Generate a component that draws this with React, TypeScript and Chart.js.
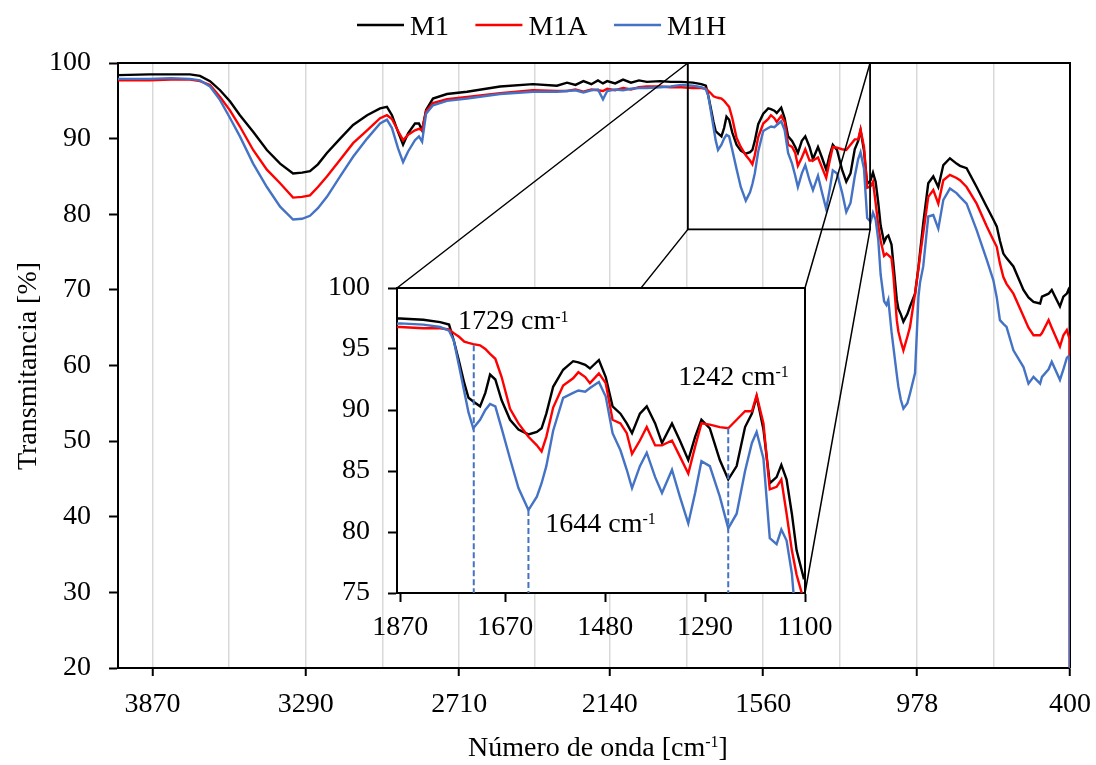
import React, { useEffect, useRef } from "react";
import { Chart, registerables } from "chart.js";
Chart.register(...registerables);

const FONT = '"Liberation Serif", "Times New Roman", Times, serif';
const FS = 28;

// ---- data (wavenumber in cm-1, transmittance in %) ----
const wavenumbers = [
  4000, 3880, 3800, 3728, 3690, 3652, 3614, 3576, 3539, 3489, 3437, 3387, 3338, 3304, 3274, 3244, 3210, 3160, 3111, 3058,
  3009, 2983, 2964, 2941, 2922, 2903, 2877, 2862, 2850, 2835, 2809, 2756, 2680, 2555, 2431, 2340, 2302, 2270, 2240, 2210,
  2185, 2166, 2150, 2120, 2090, 2060, 2030, 2000, 1950, 1910,
  1870, 1826, 1794, 1777, 1768, 1758, 1748, 1740, 1731, 1718, 1708, 1699, 1689, 1677, 1661, 1645, 1626, 1610, 1601, 1592,
  1579, 1560, 1541, 1531, 1518, 1509, 1492, 1479, 1466, 1451, 1439, 1429, 1414, 1401, 1385, 1372, 1353, 1338, 1322, 1309,
  1297, 1281, 1262, 1246, 1230, 1214, 1201, 1192, 1179, 1167, 1154, 1145, 1135, 1125, 1116, 1103,
  1094, 1087, 1075, 1068, 1055, 1049, 1040, 1030, 1015, 1005, 986, 973, 967, 955, 936, 917, 898, 879, 854, 829,
  816, 791, 753, 715, 690, 677, 665, 652, 640, 614, 576, 557, 538, 513, 506, 481, 469, 438, 425, 412, 406, 401, 400,
];

const m1 = [
  98.4, 98.5, 98.5, 98.5, 98.3, 97.6, 96.4, 94.9, 93.1, 90.9, 88.5, 86.7, 85.4, 85.5, 85.7, 86.6, 88.1, 90.0, 91.8, 93.1,
  94.0, 94.2, 93.1, 90.9, 89.2, 90.7, 92.0, 92.0, 91.1, 93.8, 95.3, 95.9, 96.2, 96.9, 97.2, 97.0, 97.4, 97.1, 97.6, 97.2,
  97.7, 97.3, 97.6, 97.3, 97.8, 97.4, 97.7, 97.5, 97.6, 97.5,
  97.5, 97.4, 97.2, 97.0, 95.7, 94.0, 92.2, 91.0, 90.7, 90.3, 91.4, 92.9, 92.5, 90.8, 89.2, 88.4, 88.0, 88.2, 88.5, 89.7,
  91.9, 93.3, 94.0, 93.9, 93.7, 93.4, 94.1, 92.7, 90.3, 89.7, 88.9, 88.1, 89.7, 90.3, 88.9, 87.3, 88.9, 87.5, 85.9, 87.8,
  89.2, 88.5, 85.9, 84.3, 85.4, 88.6, 89.7, 91.1, 88.4, 84.0, 84.5, 85.5, 84.3, 81.5, 78.5, 76.3,
  77.0, 77.2, 76.0, 73.5, 68.7, 67.5, 66.8, 65.8, 66.8, 67.8, 69.5, 73.0, 75.0, 78.8, 84.1, 85.0, 83.6, 86.5, 87.4, 86.7,
  86.4, 86.1, 83.6, 81.0, 79.3, 78.4, 76.5, 74.8, 74.2, 73.1, 70.0, 69.0, 68.4, 68.2, 69.1, 69.5, 70.0, 67.8, 69.1, 69.5, 70.0, 69.5, 0,
];

const m1a = [
  97.7, 97.7, 97.8, 97.8, 97.6, 97.1, 95.5, 93.7, 91.6, 88.5, 85.9, 84.1, 82.2, 82.3, 82.5, 83.6, 85.0, 87.2, 89.4, 91.1,
  92.7, 93.1, 92.6, 91.0, 89.8, 90.5, 91.1, 91.3, 91.1, 93.6, 94.7, 95.2, 95.5, 96.0, 96.4, 96.3, 96.3, 96.5, 96.2, 96.5,
  96.4, 96.3, 96.6, 96.4, 96.7, 96.5, 96.8, 96.9, 96.9, 96.8,
  96.8, 96.7, 96.7, 96.6, 96.3, 96.0, 95.6, 95.5, 95.4, 95.3, 95.0, 94.6, 94.2, 92.7, 90.1, 88.9, 87.8, 87.1, 86.6, 87.8,
  90.2, 92.0, 92.6, 93.1, 92.7, 92.2, 93.0, 92.2, 89.2, 88.9, 88.1, 86.4, 87.5, 88.6, 87.1, 87.1, 87.5, 86.2, 84.8, 87.0,
  88.9, 88.8, 88.6, 88.5, 89.2, 89.9, 89.9, 91.2, 88.9, 83.5, 83.7, 84.3, 81.5, 78.5, 76.5, 74.5,
  74.8, 74.6, 74.2, 72.0, 66.0, 64.5, 63.2, 62.0, 63.8, 65.1, 69.5, 72.8, 74.5, 77.5, 82.3, 83.2, 81.4, 84.5, 85.2, 84.8,
  84.5, 83.6, 81.4, 78.4, 76.6, 75.7, 73.5, 71.7, 70.8, 69.5, 66.5, 65.0, 64.0, 64.0, 64.3, 66.0, 65.0, 62.5, 64.0, 64.7, 64.0, 63.5, 0,
];

const m1h = [
  97.9, 97.9, 98.0, 97.9, 97.7, 96.9, 95.1, 92.7, 90.3, 86.7, 83.6, 81.0, 79.3, 79.4, 79.8, 80.8, 82.3, 85.0, 87.6, 90.0,
  92.0, 92.5, 91.4, 88.7, 86.9, 88.3, 89.8, 90.3, 89.6, 93.3, 94.4, 95.0, 95.3, 95.9, 96.2, 96.2, 96.3, 96.4, 96.1, 96.4,
  96.5, 95.2, 96.3, 96.5, 96.4, 96.6, 96.7, 96.7, 96.8, 96.9,
  97.1, 97.0, 96.8, 96.5, 95.7, 93.6, 91.5, 89.8, 88.5, 89.2, 90.0, 90.5, 90.3, 88.5, 86.0, 83.6, 81.8, 82.9, 84.0, 85.4,
  88.3, 91.0, 91.4, 91.6, 91.5, 91.8, 92.3, 91.1, 88.1, 86.7, 85.1, 83.6, 85.4, 86.5, 84.5, 83.2, 85.1, 82.9, 80.7, 83.2,
  85.8, 85.4, 82.9, 80.3, 81.5, 85.0, 87.3, 88.2, 86.0, 79.5, 79.0, 80.2, 79.3, 76.6, 72.0, 68.5,
  68.0, 68.7, 64.5, 62.5, 58.8, 57.2, 55.5, 54.3, 55.0, 56.3, 59.0, 69.1, 71.0, 73.1, 79.7, 79.9, 78.1, 81.9, 83.4, 82.8,
  82.3, 81.4, 77.9, 74.0, 71.3, 69.0, 66.0, 65.5, 65.1, 62.0, 59.8, 57.6, 58.5, 57.6, 58.5, 59.5, 60.5, 58.1, 59.5, 61.0, 61.2, 60.8, 0,
];

const seriesLabels = ["M1", "M1A", "M1H"];
const seriesColors = ["#000000", "#FF0000", "#4472C4"];
const seriesValues = [m1, m1a, m1h];

// main axis
const mainXRange = [400, 4000];
const mainYRange = [20, 100];
const mainXTicks = [3870, 3580, 3290, 3000, 2710, 2425, 2140, 1850, 1560, 1269, 978, 689, 400];
const mainXLabelled = [3870, 3290, 2710, 2140, 1560, 978, 400];
// zoomed window drawn on the main plot
const zoomX = [1845, 1156];
const zoomY = [78, 100];
// inset axis
const insetXRange = [1100, 1876];
const insetYRange = [75, 100];
const insetXTicks = [1870, 1670, 1480, 1290, 1100];
// marked bands
const peakX = [1730, 1626, 1246];
const peakTop = [95.3, 81.8, 88.5];
const peakText = ["1729", "1644", "1242"];
const peakTextX = [1760, 1594, 1341];
const peakTextY = [96.6, 80.0, 92.05];

// layout
const W = 1096;
const H = 765;
const INSET = { left: 300, top: 270, width: 545, height: 370, padL: 97, padT: 18, padR: 40, padB: 47 };

function drawRich(ctx: CanvasRenderingContext2D, x: number, y: number, parts: { t: string; sup?: boolean }[], size: number, align: "left" | "center", raise = 0.28) {
  const supSize = Math.round(size * 0.58);
  const widths = parts.map((p) => {
    ctx.font = `${p.sup ? supSize : size}px ${FONT}`;
    return ctx.measureText(p.t).width;
  });
  const total = widths.reduce((a, b) => a + b, 0);
  let cx = align === "center" ? x - total / 2 : x;
  ctx.textAlign = "left";
  ctx.textBaseline = "alphabetic";
  ctx.fillStyle = "#000";
  parts.forEach((p, i) => {
    ctx.font = `${p.sup ? supSize : size}px ${FONT}`;
    ctx.fillText(p.t, cx, p.sup ? y - size * raise : y);
    cx += widths[i];
  });
}

function makeDatasets() {
  return seriesValues.map((vals, i) => ({
    label: seriesLabels[i],
    data: wavenumbers.map((w, j) => ({ x: w, y: vals[j] })),
    borderColor: seriesColors[i],
    backgroundColor: seriesColors[i],
    borderWidth: 2.4,
    pointRadius: 0,
    tension: 0,
    fill: false,
    order: seriesValues.length - i,
  }));
}

export default function App() {
  const mainRef = useRef<HTMLCanvasElement>(null);
  const insetRef = useRef<HTMLCanvasElement>(null);

  useEffect(() => {
    const insetLeft = INSET.left + INSET.padL;
    const insetTop = INSET.top + INSET.padT;
    const insetRight = INSET.left + INSET.width - INSET.padR;
    const insetBottom = INSET.top + INSET.height - INSET.padB;

    const mainDecor = {
      id: "mainDecor",
      beforeDatasetsDraw(chart: any) {
        const { ctx, chartArea: a } = chart;
        ctx.save();
        ctx.strokeStyle = "#000";
        ctx.lineWidth = 2;
        ctx.beginPath();
        ctx.moveTo(a.left, a.top);
        ctx.lineTo(a.right, a.top);
        ctx.lineTo(a.right, a.bottom);
        ctx.stroke();
        ctx.restore();
      },
      afterDatasetsDraw(chart: any) {
        const { ctx } = chart;
        const xs = chart.scales.x;
        const ys = chart.scales.y;
        const bx1 = xs.getPixelForValue(zoomX[0]);
        const bx2 = xs.getPixelForValue(zoomX[1]);
        const by1 = ys.getPixelForValue(zoomY[1]);
        const by2 = ys.getPixelForValue(zoomY[0]);
        ctx.save();
        ctx.strokeStyle = "#000";
        ctx.lineWidth = 1.8;
        ctx.strokeRect(bx1, by1, bx2 - bx1, by2 - by1);
        ctx.lineWidth = 1.5;
        ctx.beginPath();
        ctx.moveTo(bx1, by1);
        ctx.lineTo(insetLeft, insetTop);
        ctx.moveTo(bx1, by2);
        ctx.lineTo(insetLeft, insetBottom);
        ctx.moveTo(bx2, by1);
        ctx.lineTo(insetRight, insetTop);
        ctx.moveTo(bx2, by2);
        ctx.lineTo(insetRight, insetBottom);
        ctx.stroke();
        ctx.restore();
      },
      afterDraw(chart: any) {
        const { ctx } = chart;
        ctx.save();
        // legend
        let lx = 357;
        const ly = 25;
        seriesLabels.forEach((lab, i) => {
          ctx.strokeStyle = seriesColors[i];
          ctx.lineWidth = 2.5;
          ctx.beginPath();
          ctx.moveTo(lx, ly);
          ctx.lineTo(lx + 47, ly);
          ctx.stroke();
          ctx.font = `${FS}px ${FONT}`;
          ctx.fillStyle = "#000";
          ctx.textAlign = "left";
          ctx.textBaseline = "alphabetic";
          ctx.fillText(lab, lx + 53, 35);
          lx += 53 + ctx.measureText(lab).width + 26.5;
        });
        // axis titles
        drawRich(ctx, 598, 756, [{ t: "Número de onda [cm" }, { t: "-1", sup: true }, { t: "]" }], FS, "center", 0.33);
        ctx.translate(36, 366);
        ctx.rotate(-Math.PI / 2);
        ctx.font = `${FS}px ${FONT}`;
        ctx.textAlign = "center";
        ctx.textBaseline = "alphabetic";
        ctx.fillStyle = "#000";
        ctx.fillText("Transmitancia [%]", 0, 0);
        ctx.restore();
      },
    };

    const main = new Chart(mainRef.current as HTMLCanvasElement, {
      type: "line",
      data: { datasets: makeDatasets() as any },
      plugins: [mainDecor],
      options: {
        animation: false,
        responsive: false,
        maintainAspectRatio: false,
        layout: { padding: { left: 0, top: 63, right: 26, bottom: 0 } },
        plugins: { legend: { display: false }, tooltip: { enabled: false } },
        scales: {
          x: {
            type: "linear",
            reverse: true,
            min: mainXRange[0],
            max: mainXRange[1],
            afterBuildTicks: (s: any) => {
              s.ticks = mainXTicks.map((v) => ({ value: v }));
            },
            afterFit: (s: any) => {
              s.height = 97;
              s.paddingLeft = 0;
              s.paddingRight = 0;
            },
            ticks: {
              autoSkip: false,
              maxRotation: 0,
              padding: 12,
              color: "#000",
              font: { family: FONT, size: FS },
              callback: (v: any) => (mainXLabelled.includes(Number(v)) ? String(v) : ""),
            },
            grid: {
              color: (c: any) => (c.tick && c.tick.value === 400 ? "rgba(0,0,0,0)" : "#d9d9d9"),
              lineWidth: 1.5,
              tickLength: 8,
              tickWidth: 2,
              tickColor: (c: any) => (c.tick && mainXLabelled.includes(c.tick.value) ? "#000" : "rgba(0,0,0,0)"),
            },
            border: { display: true, color: "#000", width: 2 },
          },
          y: {
            min: mainYRange[0],
            max: mainYRange[1],
            afterFit: (s: any) => {
              s.width = 118;
              s.paddingTop = 0;
              s.paddingBottom = 0;
            },
            ticks: { stepSize: 10, padding: 18, color: "#000", font: { family: FONT, size: FS } },
            grid: { drawOnChartArea: false, tickLength: 9, tickWidth: 2, tickColor: "#000" },
            border: { display: true, color: "#000", width: 2 },
          },
        },
      } as any,
    });

    const insetDecor = {
      id: "insetDecor",
      beforeDraw(chart: any) {
        const { ctx, chartArea: a } = chart;
        ctx.save();
        ctx.fillStyle = "#fff";
        ctx.fillRect(a.left, a.top, a.right - a.left, a.bottom - a.top);
        ctx.restore();
      },
      afterDatasetsDraw(chart: any) {
        const { ctx, chartArea: a } = chart;
        const xs = chart.scales.x;
        const ys = chart.scales.y;
        ctx.save();
        ctx.strokeStyle = "#000";
        ctx.lineWidth = 2;
        ctx.beginPath();
        ctx.moveTo(a.left, a.top);
        ctx.lineTo(a.right, a.top);
        ctx.lineTo(a.right, a.bottom);
        ctx.stroke();
        // dashed marker lines
        ctx.strokeStyle = "#4472C4";
        ctx.lineWidth = 2;
        ctx.setLineDash([6, 3]);
        peakX.forEach((px, i) => {
          const x = xs.getPixelForValue(px);
          ctx.beginPath();
          ctx.moveTo(x, ys.getPixelForValue(peakTop[i]));
          ctx.lineTo(x, a.bottom);
          ctx.stroke();
        });
        ctx.setLineDash([]);
        peakText.forEach((t, i) => {
          drawRich(ctx, xs.getPixelForValue(peakTextX[i]), ys.getPixelForValue(peakTextY[i]), [{ t: `${t} cm` }, { t: "-1", sup: true }], FS, "left", 0.27);
        });
        ctx.restore();
      },
    };

    const inset = new Chart(insetRef.current as HTMLCanvasElement, {
      type: "line",
      data: { datasets: makeDatasets() as any },
      plugins: [insetDecor],
      options: {
        animation: false,
        responsive: false,
        maintainAspectRatio: false,
        layout: { padding: { left: 0, top: INSET.padT, right: INSET.padR, bottom: 0 } },
        plugins: { legend: { display: false }, tooltip: { enabled: false } },
        scales: {
          x: {
            type: "linear",
            reverse: true,
            min: insetXRange[0],
            max: insetXRange[1],
            afterBuildTicks: (s: any) => {
              s.ticks = insetXTicks.map((v) => ({ value: v }));
            },
            afterFit: (s: any) => {
              s.height = INSET.padB;
              s.paddingLeft = 0;
              s.paddingRight = 0;
            },
            ticks: {
              autoSkip: false,
              maxRotation: 0,
              padding: 9,
              color: "#000",
              font: { family: FONT, size: FS },
              callback: (v: any) => String(v),
            },
            grid: { drawOnChartArea: false, tickLength: 9, tickWidth: 2, tickColor: "#000" },
            border: { display: true, color: "#000", width: 2 },
          },
          y: {
            min: insetYRange[0],
            max: insetYRange[1],
            afterFit: (s: any) => {
              s.width = INSET.padL;
              s.paddingTop = 0;
              s.paddingBottom = 0;
            },
            ticks: { stepSize: 5, padding: 18, color: "#000", font: { family: FONT, size: FS } },
            grid: { drawOnChartArea: false, tickLength: 9, tickWidth: 2, tickColor: "#000" },
            border: { display: true, color: "#000", width: 2 },
          },
        },
      } as any,
    });

    return () => {
      main.destroy();
      inset.destroy();
    };
  }, []);

  return (
    <div style={{ position: "absolute", left: 0, top: 0, width: W, height: H, background: "#fff", overflow: "hidden" }}>
      <canvas ref={mainRef} width={W} height={H} style={{ position: "absolute", left: 0, top: 0, width: W, height: H }} />
      <canvas
        ref={insetRef}
        width={INSET.width}
        height={INSET.height}
        style={{ position: "absolute", left: INSET.left, top: INSET.top, width: INSET.width, height: INSET.height }}
      />
    </div>
  );
}
